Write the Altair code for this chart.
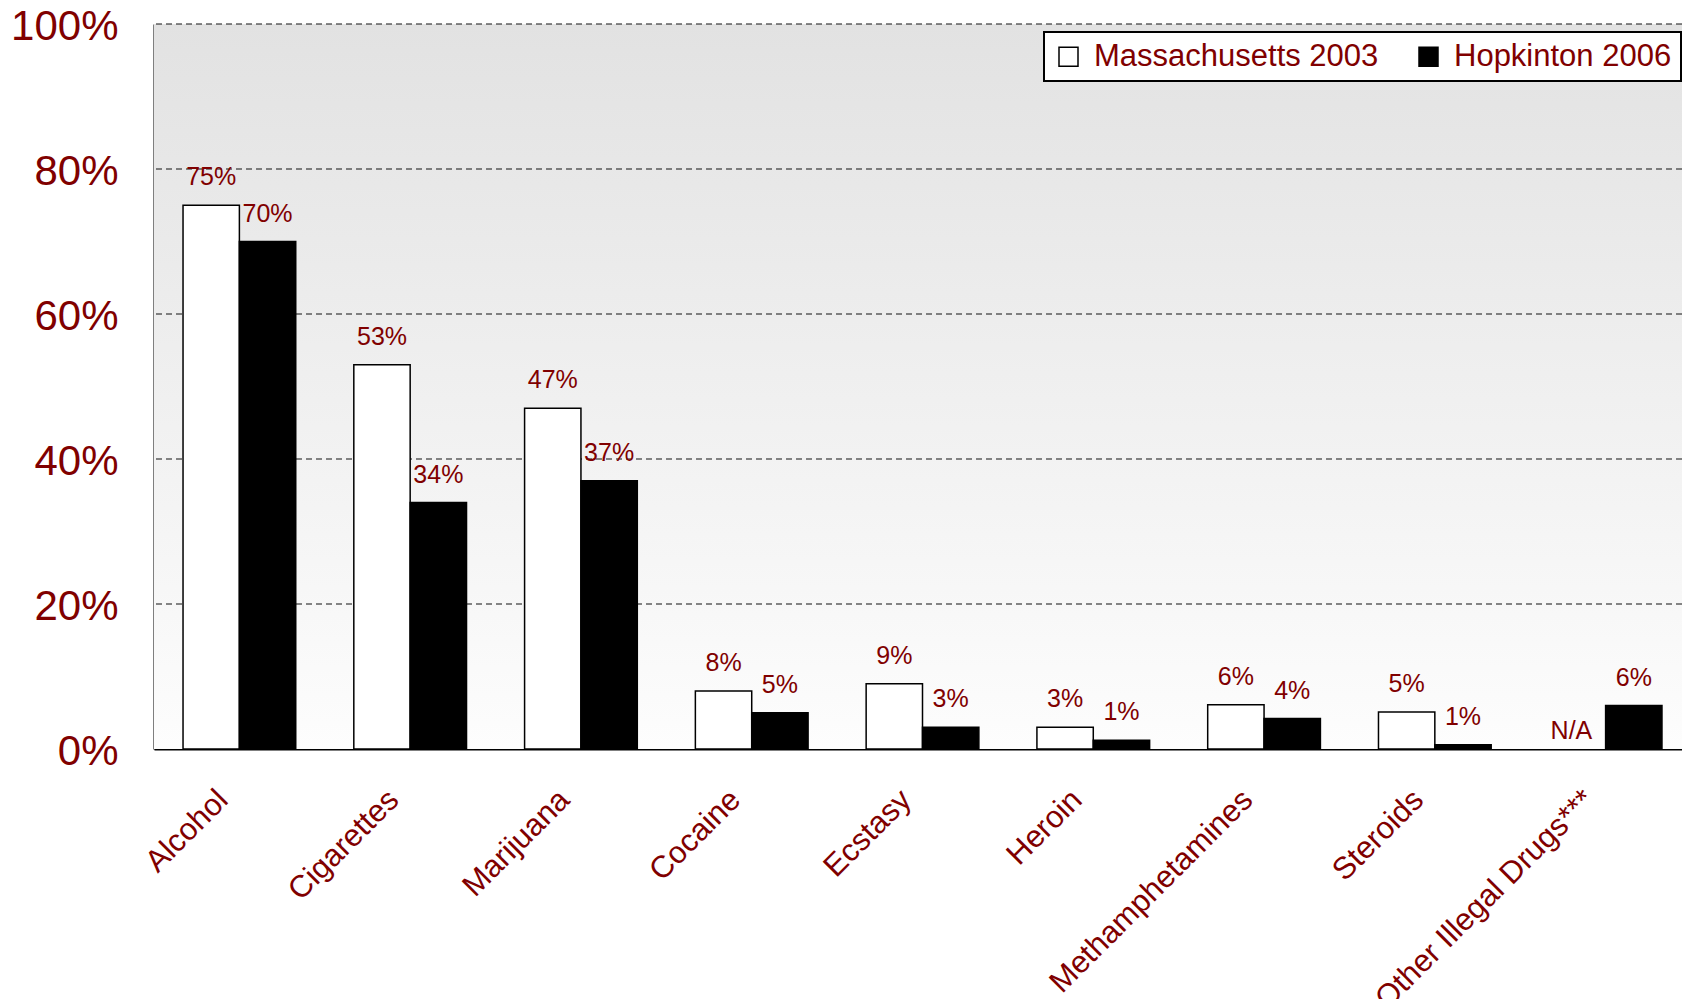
import altair as alt
import pandas as pd

categories = ["Alcohol", "Cigarettes", "Marijuana", "Cocaine", "Ecstasy",
              "Heroin", "Methamphetamines", "Steroids", "Other Illegal Drugs***"]
series = ["Massachusetts 2003", "Hopkinton 2006"]
ma_2003 = [75, 53, 47, 8, 9, 3, 6.1, 5.1, None]
hop_2006 = [70, 34, 37, 5, 3, 1.2, 4.2, 0.6, 6]
ma_labels = ["75%", "53%", "47%", "8%", "9%", "3%", "6%", "5%", "N/A"]
hop_labels = ["70%", "34%", "37%", "5%", "3%", "1%", "4%", "1%", "6%"]
y_ticks = [0, 20, 40, 60, 80, 100]
grid_ticks = [20, 40, 60, 80, 100]

DARK_RED = "#800000"
FONT = "Liberation Sans"

rows = []
for i, c in enumerate(categories):
    rows.append({"category": c, "series": series[0], "value": ma_2003[i], "label": ma_labels[i]})
    rows.append({"category": c, "series": series[1], "value": hop_2006[i], "label": hop_labels[i]})
df = pd.DataFrame(rows)

x_scale = alt.Scale(paddingInner=0.34, paddingOuter=0.17, range=[0, 1537])
x_enc = alt.X(
    "category:N", sort=categories, scale=x_scale,
    axis=alt.Axis(title=None, labelAngle=-45, labelAlign="right", labelBaseline="middle",
                  labelFontSize=31, labelColor=DARK_RED, labelFont=FONT, labelPadding=46,
                  labelOffset=-16, ticks=False, domainColor="black", domainWidth=2,
                  grid=False, labelLimit=0),
)
xo_enc = alt.XOffset("series:N", sort=series, scale=alt.Scale(paddingInner=0, paddingOuter=0))
y_scale = alt.Scale(domain=[0, 100], nice=False)
y_axis = alt.Axis(title=None, values=y_ticks, labelExpr="datum.value + '%'",
                  labelFontSize=42, labelColor=DARK_RED, labelFont=FONT, labelPadding=36,
                  labelOffset=2, ticks=False, domainColor="black", domainWidth=2, grid=False)

gradient = alt.LinearGradient(
    gradient="linear",
    stops=[alt.GradientStop(color="#e2e2e2", offset=0),
           alt.GradientStop(color="#fdfdfd", offset=1)],
    x1=0, x2=0, y1=0, y2=1,
)

bg = alt.Chart(pd.DataFrame({"d": [0]})).mark_rect(color=gradient).encode(
    x=alt.value(0), x2=alt.value("width"), y=alt.value(0), y2=alt.value("height")
)

grid = alt.Chart(pd.DataFrame({"tick": grid_ticks})).mark_rule(
    color="#111111", strokeDash=[6, 4], strokeWidth=1
).encode(y=alt.Y("tick:Q", scale=y_scale, axis=y_axis))

base = alt.Chart(df)

bars = base.mark_bar(stroke="black", strokeWidth=1.5).encode(
    x=x_enc,
    xOffset=xo_enc,
    y=alt.Y("value:Q", scale=y_scale, axis=y_axis),
    color=alt.Color(
        "series:N", sort=series,
        scale=alt.Scale(domain=series, range=["white", "black"]),
        legend=alt.Legend(title=None, orient="none", legendX=890, legendY=8,
                          direction="horizontal", fillColor="white", strokeColor="black",
                          padding=9, symbolType="square", symbolSize=361,
                          symbolStrokeColor="black", symbolStrokeWidth=1.5,
                          labelFontSize=31, labelColor=DARK_RED, labelFont=FONT,
                          labelOffset=10, columnPadding=34, labelLimit=0),
    ),
).transform_filter("datum.value != null")

labels = base.mark_text(fontSize=25, color=DARK_RED, font=FONT, baseline="alphabetic", dy=-20).encode(
    x=alt.X("category:N", sort=categories),
    xOffset=alt.XOffset("series:N", sort=series),
    y=alt.Y("value:Q"),
    text="label:N",
).transform_filter("datum.value != null")

na_labels = base.mark_text(fontSize=25, color=DARK_RED, font=FONT, baseline="alphabetic", dy=-10, dx=-6).encode(
    x=alt.X("category:N", sort=categories),
    xOffset=alt.XOffset("series:N", sort=series),
    y=alt.Y("ypos:Q"),
    text="label:N",
).transform_filter("datum.value == null").transform_calculate(ypos="0")

chart = alt.layer(bg, grid, bars, labels, na_labels).properties(
    width=1528, height=725,
    padding={"left": 146, "top": 16, "right": 0, "bottom": 250},
    autosize=alt.AutoSizeParams(type="none"),
).configure(font=FONT).configure_view(stroke="transparent").configure_legend(strokeWidth=2)

chart.save("out.html", embed_options={"renderer": "svg", "actions": False})
